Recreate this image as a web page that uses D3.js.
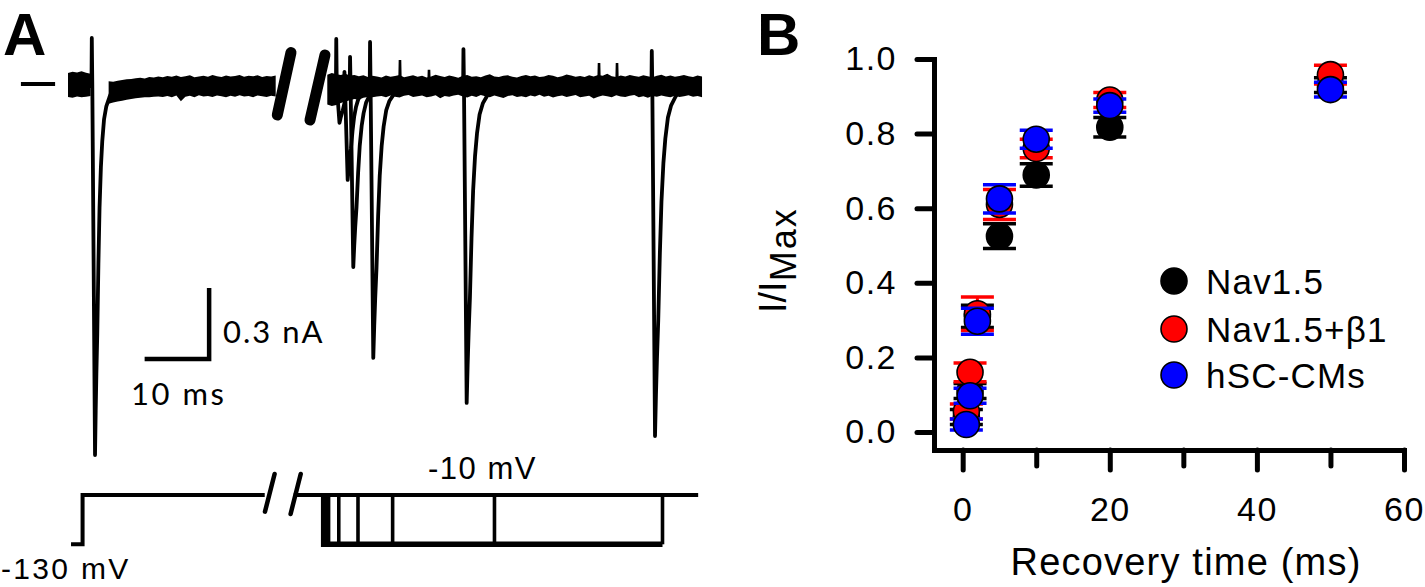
<!DOCTYPE html>
<html><head><meta charset="utf-8">
<script src="https://cdn.jsdelivr.net/npm/d3@7"></script>
<style>
html,body{margin:0;padding:0;background:#fff;}
svg{display:block;}
</style></head><body>
<svg id="fig" width="1425" height="587"></svg>
<script>
// ================= Panel B data =================
const recoveryTimes = [0.5, 1, 2, 5, 10, 20, 50];
const seriesNames = ["Nav1.5", "Nav1.5+β1", "hSC-CMs"];
const seriesColors = ["#000000", "#ff0000", "#0000ff"];
const nav15Mean   = [0.04, 0.11, 0.31, 0.525, 0.689, 0.817, 0.93];
const nav15Err    = [0.02, 0.02, 0.03, 0.033, 0.03, 0.026, 0.02];
const nav15b1Mean = [0.055, 0.16, 0.317, 0.61, 0.76, 0.89, 0.958];
const nav15b1Err  = [0.02, 0.025, 0.045, 0.04, 0.025, 0.02, 0.025];
const hscMean     = [0.02, 0.097, 0.297, 0.625, 0.785, 0.875, 0.918];
const hscErr      = [0.015, 0.02, 0.035, 0.038, 0.024, 0.018, 0.02];
const xTickValues = [0, 10, 20, 30, 40, 50, 60];
const xTickLabels = ["0", "", "20", "", "40", "", "60"];
const yTickValues = [0, 0.2, 0.4, 0.6, 0.8, 1.0];
const yTickLabels = ["0.0", "0.2", "0.4", "0.6", "0.8", "1.0"];

// ================= Panel A data (ms, nA, mV) =================
const noiseStepMs = 0.7;
const preBreakStartMs = 0;
// band edges in milli-nA (upper above, lower below baseline); null = all sweeps in the peak
const preBreakUpper = [55,60,57,62,56,52,null,null,null,20,18,22,25,28,30,33,35,32,38,36,40,37,42,39,44,38,41,45,37,40,43,39,46,41,38,44,40,42,47,39,43,41,45,38,42,40,44];
const preBreakLower = [46,50,44,48,45,42,null,null,null,75,70,66,62,58,55,52,50,48,47,45,44,46,42,48,40,64,45,41,47,39,44,42,46,40,43,48,41,45,39,44,42,47,40,43,46,41,44];
const postBreakStartMs = 40.2;
const postBreakUpper = [48,55,50,46,52,44,47,41,45,38,43,40,36,44,39,42,47,37,41,45,39,43,36,40,48,42,38,44,40,35,43,46,39,41,37,44,50,40,38,43,45,39,36,42,47,41,44,38,40,46,43,37,41,49,44,39,42,38,45,40,47,43,52,41,38,44,40,46,42,39,45,41,37,43,48,40,44,39,42,46,41,38,44,40];
const postBreakLower = [78,85,80,72,66,60,55,58,50,46,48,44,42,47,40,45,49,41,38,46,43,40,48,44,39,52,42,45,40,37,44,49,41,46,38,43,47,40,45,51,42,39,46,43,48,40,44,37,45,41,49,43,40,46,42,38,47,44,41,53,45,40,43,48,39,44,46,41,38,47,43,50,42,45,40,44,48,41,46,43,39,45,42,47];
const peakTimesMs   = [4.19, 42.09, 43.36, 44.23, 47.33, 61.81, 91.01];
const peakAmpsNa    = [-1.559, -0.156, -0.397, -0.765, -1.149, -1.339, -1.479];
const artifactAmpsNa = [0.203, 0.199, 0.06, 0.123, 0.186, 0.156, 0.148];
const decayStretch  = [0.7, 1, 1, 1, 1, 1, 1];
const decayOffsetsMs = [0, 0.15, 0.3, 0.5, 0.75, 1.0, 1.3, 1.6, 2.0, 2.5, 3.2, 4.2];
const decayFractions = [1, 0.88, 0.78, 0.67, 0.48, 0.33, 0.22, 0.15, 0.09, 0.055, 0.03, 0];
const artifactLeadMs = [-0.9, -0.55, -0.5, -0.42];
const extraSpikeTimesMs = [51.47, 55.97, 82.33, 85.12];
const extraSpikeAmpsNa  = [0.11, 0.068, 0.097, 0.097];
const traceBreakMarks = [[34.57, 0.1415, 32.45, -0.1225], [39.84, 0.131, 37.52, -0.1436]];
const zeroMarkerMs = [-7.3, -2.0];
const scaleBarMs = [11.88, 21.88];
const scaleBarNa = [-1.153, -0.853];
// voltage protocol
const protoCondTimesMs = [0.47, 2.26, 2.26, 30.5];
const protoCondVolts   = [-130, -130, -10, -10];
const protoTestSpanMs  = [35.0, 97.7];
const protoStepDownMs  = 39.64;
const protoRecoveryEndsMs = [40.0, 40.4, 41.98, 44.96, 50.33, 66.12, 92.17];
const protoBreakMarks = [[32.03, 41.1, 30.54, -50.6], [36.08, 41.1, 34.51, -56.2]];
const holdV = -130, testV = -10;

// ================= Drawing =================
const svg = d3.select("#fig");
const ARIAL = "'Liberation Sans', Arial, sans-serif";
const LATO = "Lato, 'Open Sans', sans-serif";

// ---- Panel A ----
const xA = d3.scaleLinear().domain([0, 100]).range([68, 713]);
const yA = d3.scaleLinear().domain([0, -1]).range([86, 322.7]);
const yV = d3.scaleLinear().domain([-130, -10]).range([544.3, 495]);
const gA = svg.append("g");

const areaGen = d3.area().defined(d => d.u != null)
  .x(d => xA(d.t)).y0(d => yA(-d.l)).y1(d => yA(d.u));
function bandData(up, lo, t0) {
  return up.map((u, i) => ({ t: t0 + i * noiseStepMs, u: u == null ? null : u / 1000, l: lo[i] == null ? null : lo[i] / 1000 }));
}
gA.append("path").attr("d", areaGen(bandData(preBreakUpper, preBreakLower, preBreakStartMs))).attr("fill", "#000");
gA.append("path").attr("d", areaGen(bandData(postBreakUpper, postBreakLower, postBreakStartMs))).attr("fill", "#000");

const lineGen = d3.line().x(d => xA(d[0])).y(d => yA(d[1]));
peakTimesMs.forEach((t0, k) => {
  const amp = peakAmpsNa[k], art = artifactAmpsNa[k];
  const pts = [[t0 + artifactLeadMs[0], 0], [t0 + artifactLeadMs[1], 0], [t0 + artifactLeadMs[2], art], [t0 + artifactLeadMs[3], 0]];
  decayOffsetsMs.forEach((o, i) => pts.push([t0 + o * decayStretch[k], amp * decayFractions[i]]));
  gA.append("path").attr("d", lineGen(pts)).attr("fill", "none").attr("stroke", "#000")
    .attr("stroke-width", 3.8).attr("stroke-linejoin", "round");
});
extraSpikeTimesMs.forEach((t, k) => {
  gA.append("path").attr("d", lineGen([[t - 0.08, 0], [t, extraSpikeAmpsNa[k]], [t + 0.08, 0]]))
    .attr("fill", "none").attr("stroke", "#000").attr("stroke-width", 2.6);
});
traceBreakMarks.forEach(m => {
  gA.append("line").attr("x1", xA(m[0])).attr("y1", yA(m[1])).attr("x2", xA(m[2])).attr("y2", yA(m[3]))
    .attr("stroke", "#000").attr("stroke-width", 11).attr("stroke-linecap", "round");
});
gA.append("line").attr("x1", xA(zeroMarkerMs[0])).attr("x2", xA(zeroMarkerMs[1]))
  .attr("y1", yA(0.008)).attr("y2", yA(0.008)).attr("stroke", "#000").attr("stroke-width", 4);
// scale bar
gA.append("path").attr("d", `M${xA(scaleBarMs[0])},${yA(scaleBarNa[0])}H${xA(scaleBarMs[1])}V${yA(scaleBarNa[1])}`)
  .attr("fill", "none").attr("stroke", "#000").attr("stroke-width", 4.5);
gA.append("text").attr("x", 223).attr("y", 343).text("0.3 nA")
  .attr("font-family", LATO).attr("font-size", 31).attr("letter-spacing", 2);
gA.append("text").attr("x", 131).attr("y", 405).text("10 ms")
  .attr("font-family", LATO).attr("font-size", 31).attr("letter-spacing", 2.5);

// protocol
const vLine = d3.line().x(d => xA(d[0])).y(d => yV(d[1]));
const protoStroke = 4;
gA.append("path").attr("d", vLine(protoCondTimesMs.map((t, i) => [t, protoCondVolts[i]])))
  .attr("fill", "none").attr("stroke", "#000").attr("stroke-width", protoStroke).attr("stroke-linejoin", "miter");
gA.append("path").attr("d", vLine(protoTestSpanMs.map(t => [t, testV])))
  .attr("fill", "none").attr("stroke", "#000").attr("stroke-width", protoStroke);
const lastRec = protoRecoveryEndsMs[protoRecoveryEndsMs.length - 1];
gA.append("path").attr("d", vLine([[protoStepDownMs, testV], [protoStepDownMs, holdV], [lastRec, holdV]]))
  .attr("fill", "none").attr("stroke", "#000").attr("stroke-width", 5.5).attr("stroke-linejoin", "miter");
protoRecoveryEndsMs.forEach(t => {
  gA.append("line").attr("x1", xA(t)).attr("x2", xA(t)).attr("y1", yV(holdV)).attr("y2", yV(testV))
    .attr("stroke", "#000").attr("stroke-width", 3.6);
});
protoBreakMarks.forEach(m => {
  gA.append("line").attr("x1", xA(m[0])).attr("y1", yV(m[1])).attr("x2", xA(m[2])).attr("y2", yV(m[3]))
    .attr("stroke", "#000").attr("stroke-width", 4.5).attr("stroke-linecap", "round");
});
gA.append("text").attr("x", 428).attr("y", 479).text("-10 mV")
  .attr("font-family", ARIAL).attr("font-size", 31).attr("letter-spacing", 1.5);
gA.append("text").attr("x", 1).attr("y", 579).text("-130 mV")
  .attr("font-family", ARIAL).attr("font-size", 30).attr("letter-spacing", 2.3);

svg.append("text").attr("x", 3).attr("y", 54.5).text("A")
  .attr("font-family", ARIAL).attr("font-weight", "bold").attr("font-size", 60);
svg.append("text").attr("x", 757).attr("y", 54.5).text("B")
  .attr("font-family", ARIAL).attr("font-weight", "bold").attr("font-size", 60);

// ---- Panel B ----
const xB = d3.scaleLinear().domain([-3.9, 60]).range([934, 1404]);
const yB = d3.scaleLinear().domain([-0.0483, 1]).range([450, 59]);

const gx = svg.append("g").attr("transform", "translate(0,450)")
  .call(d3.axisBottom(xB).tickValues(xTickValues).tickFormat((d, i) => xTickLabels[i])
    .tickSizeInner(20).tickSizeOuter(0).tickPadding(27));
const gy = svg.append("g").attr("transform", "translate(934,0)")
  .call(d3.axisLeft(yB).tickValues(yTickValues).tickFormat((d, i) => yTickLabels[i])
    .tickSizeInner(17).tickSizeOuter(0).tickPadding(20));
[gx, gy].forEach(g => {
  g.attr("font-family", ARIAL).attr("font-size", 34);
  g.select(".domain").attr("stroke", "#000").attr("stroke-width", 5).attr("stroke-linecap", "square");
  g.selectAll(".tick line").attr("stroke", "#000").attr("stroke-width", 5).attr("stroke-linecap", "round");
  g.selectAll(".tick text").attr("fill", "#000").attr("letter-spacing", 1.5);
});
gx.selectAll(".tick").filter((d, i) => xTickLabels[i] === "").select("line").attr("y2", 16);

svg.append("text").attr("text-anchor", "middle").attr("x", 1186).attr("y", 575)
  .attr("font-family", ARIAL).attr("font-size", 38).attr("letter-spacing", 1.2).text("Recovery time (ms)");
const yt = svg.append("text").attr("transform", "translate(786,313) rotate(-90)")
  .attr("font-family", ARIAL).attr("font-size", 38);
yt.append("tspan").text("I/I");
yt.append("tspan").attr("dy", 10).attr("font-size", 36).attr("letter-spacing", 2).text("Max");

const series = [
  { mean: nav15Mean, err: nav15Err, color: seriesColors[0] },
  { mean: nav15b1Mean, err: nav15b1Err, color: seriesColors[1] },
  { mean: hscMean, err: hscErr, color: seriesColors[2] }
];
const capHalf = 16.5, radius = 13;
series.forEach(s => {
  const g = svg.append("g");
  recoveryTimes.forEach((t, i) => {
    const x = xB(t), yLo = yB(s.mean[i] - s.err[i]), yHi = yB(s.mean[i] + s.err[i]);
    g.append("line").attr("x1", x).attr("x2", x).attr("y1", yLo).attr("y2", yHi)
      .attr("stroke", s.color).attr("stroke-width", 3);
    [yLo, yHi].forEach(y => g.append("line").attr("x1", x - capHalf).attr("x2", x + capHalf)
      .attr("y1", y).attr("y2", y).attr("stroke", s.color).attr("stroke-width", 3.5));
  });
  g.selectAll("circle").data(recoveryTimes).join("circle")
    .attr("cx", d => xB(d)).attr("cy", (d, i) => yB(s.mean[i])).attr("r", radius)
    .attr("fill", s.color).attr("stroke", "#000").attr("stroke-width", 1.6);
});

// legend
const legendY = [281, 329, 375];
seriesNames.forEach((n, i) => {
  svg.append("circle").attr("cx", 1174).attr("cy", legendY[i]).attr("r", radius)
    .attr("fill", seriesColors[i]).attr("stroke", "#000").attr("stroke-width", 1.6);
  svg.append("text").attr("x", 1206).attr("y", legendY[i] + 12.5).text(n)
    .attr("font-family", ARIAL).attr("font-size", 35).attr("letter-spacing", 1.2);
});
</script>
</body></html>
